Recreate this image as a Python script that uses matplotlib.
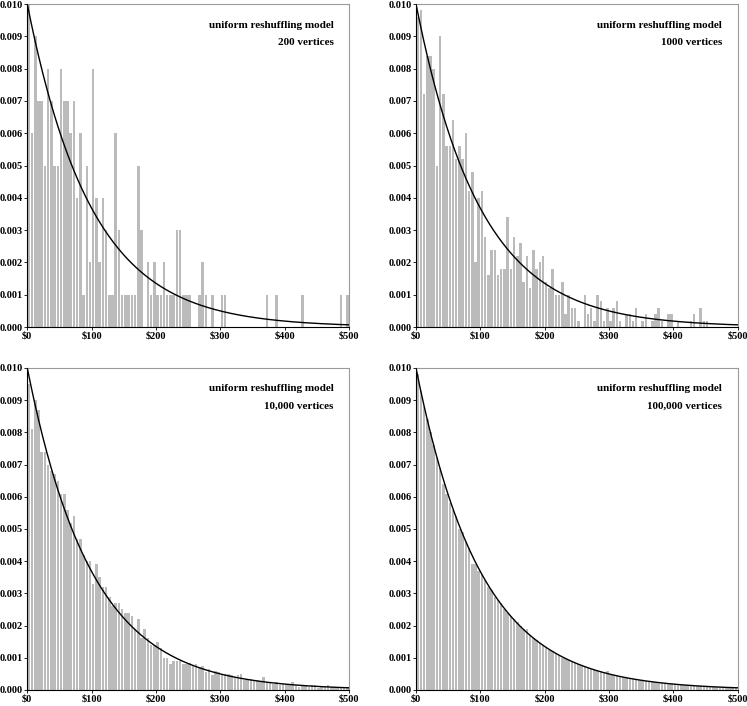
import numpy as np
import matplotlib
matplotlib.use('Agg')
import matplotlib.pyplot as plt
from matplotlib.ticker import FuncFormatter, MultipleLocator

plt.rcParams['font.family'] = ['Liberation Serif', 'DejaVu Serif']
plt.rcParams['font.weight'] = 'bold'

# --- Data ---
# histogram bins are $5 wide, $0 .. $500
BIN_WIDTH = 5
bin_left = np.arange(0, 500, BIN_WIDTH)

# 200 vertices: number of vertices per bin
counts_200 = [
    10, 6, 9, 7, 7, 5, 8, 7, 5, 5,
    8, 7, 7, 6, 7, 4, 6, 1, 5, 2,
    8, 4, 2, 4, 3, 1, 1, 6, 3, 1,
    1, 1, 1, 1, 5, 3, 0, 2, 1, 2,
    1, 1, 2, 1, 1, 1, 3, 3, 1, 1,
    1, 0, 0, 1, 2, 1, 0, 1, 0, 0,
    1, 1, 0, 0, 0, 0, 0, 0, 0, 0,
    0, 0, 0, 0, 1, 0, 0, 1, 0, 0,
    0, 0, 0, 0, 0, 1, 0, 0, 0, 0,
    0, 0, 0, 0, 0, 0, 0, 1, 0, 1,
]

# 1000 vertices: number of vertices per bin
counts_1000 = [
    48, 49, 36, 42, 42, 40, 25, 45, 36, 28,
    28, 32, 26, 28, 26, 30, 21, 24, 10, 20,
    21, 14, 8, 12, 12, 8, 9, 9, 17, 9,
    14, 11, 13, 7, 11, 6, 12, 9, 10, 11,
    7, 6, 9, 5, 5, 7, 2, 5, 3, 3,
    1, 0, 5, 2, 3, 1, 5, 4, 1, 3,
    1, 3, 4, 1, 0, 2, 2, 1, 3, 0,
    1, 2, 0, 1, 2, 3, 1, 0, 2, 2,
    0, 1, 0, 0, 0, 1, 2, 0, 3, 1,
    1, 0, 0, 0, 0, 0, 0, 0, 0, 0,
]

# 10,000 vertices: density per bin, in units of 1e-4
density_10k = [
    95, 81, 90, 87, 74, 74, 70, 68, 67, 65,
    61, 61, 56, 52, 54, 47, 47, 42, 40, 40,
    33, 39, 35, 32, 32, 29, 26, 27, 27, 25,
    24, 24, 23, 19, 22, 16, 19, 16, 14, 14,
    15, 13, 10, 10, 8, 9, 9, 9, 8, 8,
    8.5, 7.5, 8.0, 7.0, 7.5, 5.5, 6.5, 4.5, 6.0, 5.5,
    5.0, 5.0, 5.0, 4.5, 4.0, 4.5, 5.0, 3.0, 3.0, 3.5,
    3.0, 3.0, 2.5, 4.0, 2.5, 2.5, 2.0, 2.5, 1.5, 2.0,
    2.0, 1.5, 2.5, 1.5, 1.0, 1.5, 1.5, 1.0, 1.5, 1.5,
    0.5, 1.0, 1.0, 1.5, 1.0, 1.0, 0.5, 1.0, 0.5, 1.0,
]

# 100,000 vertices: density per bin, in units of 1e-4
density_100k = [
    98, 93, 88, 84, 80, 76, 72, 69, 64, 61,
    58, 56, 54, 50, 49, 46, 44, 39, 39, 37,
    36, 34, 32, 31, 29, 28, 27, 25, 24, 23,
    22, 21, 20, 19, 19, 17, 16, 15.5, 14.5, 14,
    13, 12.5, 12, 11.5, 11, 10, 9.8, 9.3, 8.9, 8.4,
    8.0, 7.6, 7.3, 7.0, 6.5, 6.2, 6.0, 5.6, 5.4, 5.8,
    4.9, 4.6, 4.3, 4.2, 4.0, 3.8, 3.6, 3.4, 3.3, 3.1,
    3.0, 2.8, 2.7, 2.5, 2.4, 2.3, 2.2, 2.1, 2.0, 1.9,
    1.8, 1.7, 1.6, 1.5, 1.5, 1.4, 1.3, 1.3, 1.2, 1.1,
    1.1, 1.0, 1.0, 0.9, 0.9, 0.8, 0.8, 0.8, 0.7, 0.7,
]

model_title = 'uniform reshuffling model'
panel_labels = ['200 vertices', '1000 vertices', '10,000 vertices', '100,000 vertices']

# exponential density with mean $100
MEAN_PRICE = 100


def to_density(counts, n_vertices):
    return np.array(counts) / (n_vertices * BIN_WIDTH)


def draw_panel(ax, values, label):
    ax.bar(bin_left + BIN_WIDTH / 2, values, width=3.9, color='#bbbbbb',
           edgecolor='none', zorder=2)

    # theoretical curve
    x = np.linspace(0, 500, 500)
    ax.plot(x, np.exp(-x / MEAN_PRICE) / MEAN_PRICE, color='black', lw=1.0, zorder=3)

    ax.set_xlim(0, 500)
    ax.set_ylim(0, 0.010)
    ax.xaxis.set_major_locator(MultipleLocator(100))
    ax.yaxis.set_major_locator(MultipleLocator(0.001))
    ax.xaxis.set_major_formatter(FuncFormatter(lambda v, p: '$%d' % v))
    ax.yaxis.set_major_formatter(FuncFormatter(lambda v, p: '%.3f' % v))
    ax.tick_params(axis='both', direction='out', length=2.0, width=0.6,
                   labelsize=7.5, pad=1.0)
    for t in ax.get_xticklabels() + ax.get_yticklabels():
        t.set_fontweight('bold')

    for side in ['top', 'right']:
        ax.spines[side].set_color('#9a9a9a')
        ax.spines[side].set_linewidth(0.8)
    for side in ['left', 'bottom']:
        ax.spines[side].set_color('black')
        ax.spines[side].set_linewidth(0.8)

    ax.text(0.952, 0.935, model_title, transform=ax.transAxes, ha='right',
            va='center', fontsize=8, fontweight='bold')
    ax.text(0.952, 0.882, label, transform=ax.transAxes, ha='right',
            va='center', fontsize=8, fontweight='bold')


fig = plt.figure(figsize=(7.47, 7.06), dpi=100)

# [left, bottom, width, height] in figure fractions
positions = [
    [0.0365, 0.5368, 0.4307, 0.4575],
    [0.5569, 0.5368, 0.4304, 0.4575],
    [0.0365, 0.0227, 0.4307, 0.4561],
    [0.5569, 0.0227, 0.4304, 0.4561],
]
series = [
    to_density(counts_200, 200),
    to_density(counts_1000, 1000),
    np.array(density_10k) * 1e-4,
    np.array(density_100k) * 1e-4,
]

for pos, values, label in zip(positions, series, panel_labels):
    ax = fig.add_axes(pos)
    draw_panel(ax, values, label)

fig.savefig('out.png', dpi=100)
